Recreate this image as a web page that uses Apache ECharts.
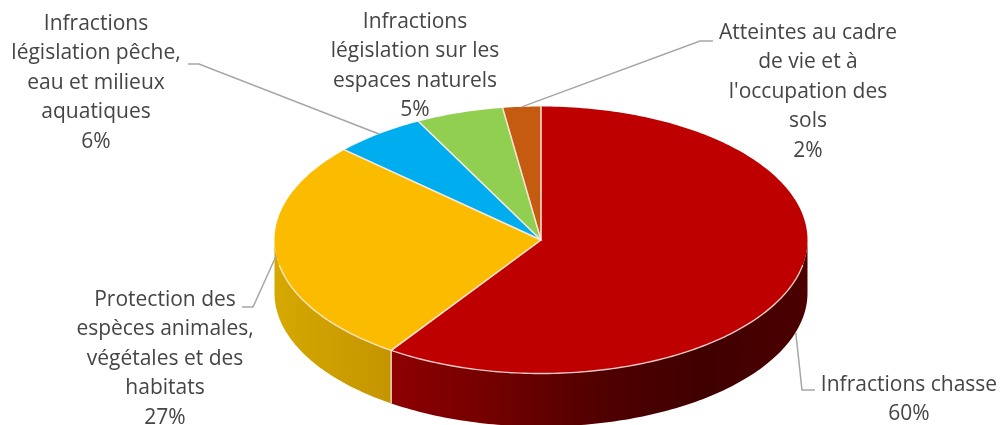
<!DOCTYPE html>
<html><head><meta charset="utf-8">
<style>html,body{margin:0;padding:0;background:#fff}#c{width:1002px;height:425px}</style>
<script src="https://cdn.jsdelivr.net/npm/echarts@6/dist/echarts.min.js"></script>
</head><body><div id="c"></div>
<script>
// Data, clockwise from 12 o'clock
const categories = [
  "Infractions chasse",
  "Protection des\nespèces animales,\nvégétales et des\nhabitats",
  "Infractions\nlégislation pêche,\neau et milieux\naquatiques",
  "Infractions\nlégislation sur les\nespaces naturels",
  "Atteintes au cadre\nde vie et à\nl'occupation des\nsols"
];
const values = [59.5, 27.3, 5.6, 5.3, 2.3];

// Styles and layout
const topColors = ["#BE0000", "#FBBC00", "#00AEEF", "#90CF50", "#C55A11"];
const sideStops = [
  [[0, "#8E0000"], [0.25, "#720000"], [0.5, "#500000"], [0.75, "#400000"], [1, "#4C0000"]],
  [[0, "#D6A800"], [1, "#C49500"]],
  [[0, "#0090C0"], [1, "#0090C0"]],
  [[0, "#76A840"], [1, "#76A840"]],
  [[0, "#A04A0E"], [1, "#A04A0E"]]
];
const cx = 541, cy = 240, rx = 266.5, ry = 133.5, depth = 53;
const labelPos = [[909, 370], [165, 285], [96, 9], [415, 7], [808, 18]];
// leader: elbow, end; null when the label has no leader
const leaders = [
  {lower: true, pts: [[802, 390], [815, 390]]},
  {lower: false, pts: [[253, 307], [242, 307]]},
  {lower: false, pts: [[199, 64], [188, 64]]},
  null,
  {lower: false, pts: [[700, 41], [713, 41]]}
];

const total = values.reduce((a, b) => a + b, 0);
const rimPoint = (t, dy) => [cx + rx * Math.sin(t), cy - ry * Math.cos(t) + (dy || 0)];
const arc = (a, b, dy) => {
  const n = Math.max(2, Math.ceil((b - a) / (Math.PI / 180)));
  const out = [];
  for (let i = 0; i <= n; i++) out.push(rimPoint(a + (b - a) * i / n, dy));
  return out;
};
const startAngle = i => values.slice(0, i).reduce((a, b) => a + b, 0) / total * 2 * Math.PI;

function renderItem(params, api) {
  const i = api.value(0);
  const a = startAngle(i);
  const b = a + api.value(1) / total * 2 * Math.PI;
  const children = [];
  // side wall (only the front half is visible)
  const sa = Math.max(a, Math.PI / 2), sb = Math.min(b, 3 * Math.PI / 2);
  const hasSide = sb > sa;
  if (hasSide) {
    const upper = arc(sa, sb, 0), lower = arc(sa, sb, depth).reverse();
    const xs = upper.map(p => p[0]);
    const x0 = Math.min(...xs), x1 = Math.max(...xs);
    const stops = sideStops[i].map(s => ({offset: s[0], color: s[1]}));
    children.push({
      type: 'polygon',
      shape: {points: upper.concat(lower)},
      style: {fill: new echarts.graphic.LinearGradient(x0, 0, x1, 0, stops, true)},
      z2: 1
    });
    if (sa > Math.PI / 2) {
      children.push({type: 'line', shape: {x1: rimPoint(sa)[0], y1: rimPoint(sa)[1], x2: rimPoint(sa)[0], y2: rimPoint(sa, depth)[1]},
        style: {stroke: 'rgba(255,255,255,0.7)', lineWidth: 1.5}, z2: 2});
    }
  }
  // top face
  children.push({
    type: 'polygon',
    shape: {points: [[cx, cy]].concat(arc(a, b, 0))},
    style: {fill: topColors[i]},
    z2: 3
  });
  // slice edges
  children.push({
    type: 'polyline',
    shape: {points: [rimPoint(a), [cx, cy], rimPoint(b)]},
    style: {stroke: 'rgba(255,235,225,0.7)', lineWidth: 1.4, fill: null, lineJoin: 'round'},
    z2: 4
  });
  // light front rim
  if (hasSide) {
    const ra = Math.max(sa, Math.PI * 0.56), rb = Math.min(sb, Math.PI * 1.44);
    children.push({
      type: 'polyline',
      shape: {points: arc(ra, rb, 0)},
      style: {stroke: 'rgba(255,240,235,0.8)', lineWidth: 1.4, fill: null},
      z2: 4
    });
  }
  // leader line
  const mid = (a + b) / 2;
  if (leaders[i]) {
    const start = rimPoint(mid, leaders[i].lower ? depth : 0);
    children.push({type: 'polyline', shape: {points: [start].concat(leaders[i].pts)},
      style: {stroke: '#A6A6A6', lineWidth: 1.5, fill: null}, z2: 5});
  }
  // label
  const pct = Math.round(api.value(1) / total * 100) + '%';
  children.push({
    type: 'text',
    style: {
      text: categories[i] + '\n' + pct,
      x: labelPos[i][0], y: labelPos[i][1],
      align: 'center', verticalAlign: 'top',
      fontFamily: 'Open Sans', fontSize: 21, lineHeight: 29.5,
      fill: '#454545'
    },
    z2: 6
  });
  return {type: 'group', children};
}

const chart = echarts.init(document.getElementById('c'), null, {renderer: 'canvas'});
chart.setOption({
  backgroundColor: '#fff',
  animation: false,
  series: [{
    type: 'custom',
    coordinateSystem: 'none',
    renderItem,
    silent: true,
    data: values.map((v, i) => [i, v])
  }]
});
</script></body></html>
